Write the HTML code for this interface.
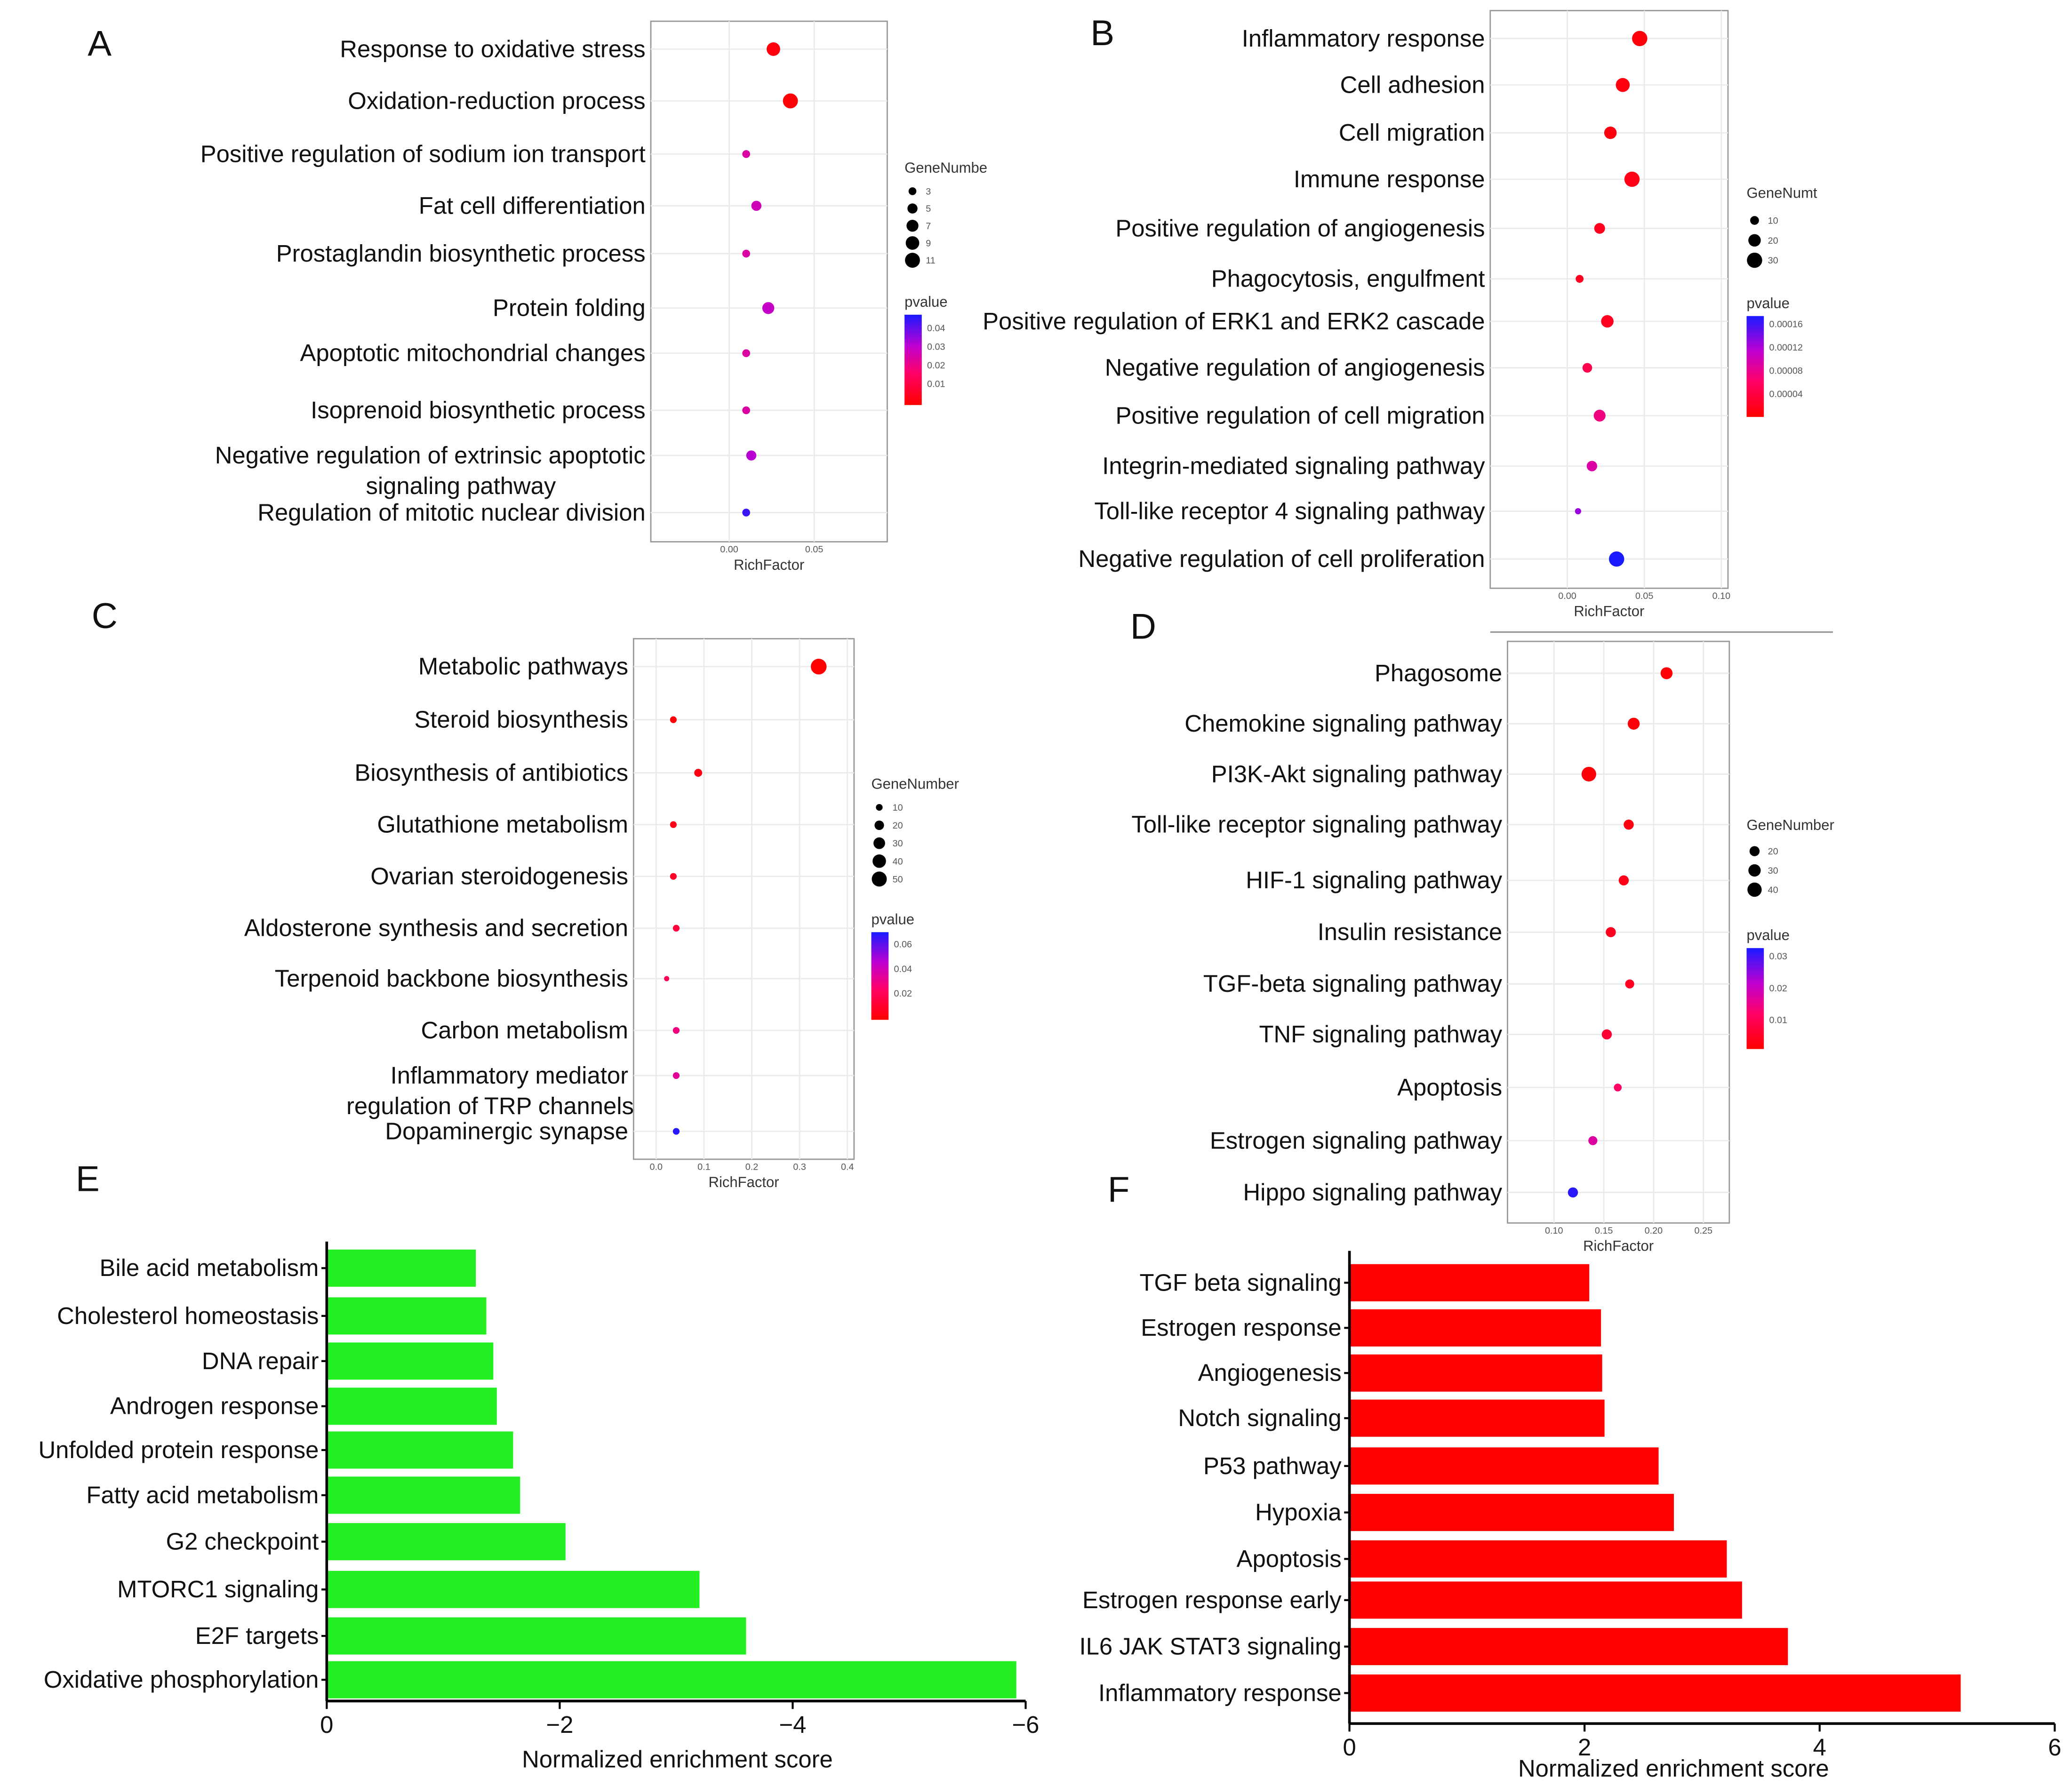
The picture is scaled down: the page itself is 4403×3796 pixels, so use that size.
<!DOCTYPE html>
<html><head><meta charset="utf-8"><style>
html,body{margin:0;padding:0;background:#fff;}
svg{display:block;}
text{font-family:"Liberation Sans",sans-serif;}
.lab{font-size:18px;fill:#111;}
.tick{font-size:7px;fill:#555;}
.leg{font-size:11px;fill:#333;}
.panel{font-size:27px;fill:#111;}
</style></head><body>
<svg id="fig" xmlns="http://www.w3.org/2000/svg" width="4403" height="3796" viewBox="0 0 1560 1345" preserveAspectRatio="none">
<defs>
<linearGradient id="pg" x1="0" y1="1" x2="0" y2="0">
<stop offset="0" stop-color="#ff0000"/><stop offset="0.35" stop-color="#ff0066"/><stop offset="0.65" stop-color="#c000d0"/><stop offset="1" stop-color="#1a1aff"/>
</linearGradient>
</defs>
</svg>
<script>
// ---------- Panel A data ----------
const catsA=["Response to oxidative stress","Oxidation-reduction process","Positive regulation of sodium ion transport","Fat cell differentiation","Prostaglandin biosynthetic process","Protein folding","Apoptotic mitochondrial changes","Isoprenoid biosynthetic process","Negative regulation of extrinsic apoptotic|signaling pathway","Regulation of mitotic nuclear division"];
const richA=[0.026,0.036,0.010,0.016,0.010,0.023,0.010,0.010,0.013,0.010];
const geneA=[9,11,3,5,3,7,3,3,5,3];
const pA=[0.002,0.001,0.025,0.028,0.025,0.03,0.025,0.025,0.032,0.045];
const ticksA=["0.00","0.05"];
const legSizeA=[3,5,7,9,11];
const legPA=["0.04","0.03","0.02","0.01"];
// ---------- Panel B data ----------
const catsB=["Inflammatory response","Cell adhesion","Cell migration","Immune response","Positive regulation of angiogenesis","Phagocytosis, engulfment","Positive regulation of ERK1 and ERK2 cascade","Negative regulation of angiogenesis","Positive regulation of cell migration","Integrin-mediated signaling pathway","Toll-like receptor 4 signaling pathway","Negative regulation of cell proliferation"];
const richB=[0.047,0.036,0.028,0.042,0.021,0.008,0.026,0.013,0.021,0.016,0.007,0.032];
const geneB=[30,25,20,30,15,8,20,12,18,14,5,30];
const pB=[0.000005,0.00001,0.00001,0.000015,0.00002,0.00002,0.00002,0.00005,0.00008,0.0001,0.00014,0.00019];
const ticksB=["0.00","0.05","0.10"];
const legSizeB=[10,20,30];
const legPB=["0.00016","0.00012","0.00008","0.00004"];
// ---------- Panel C data ----------
const catsC=["Metabolic pathways","Steroid biosynthesis","Biosynthesis of antibiotics","Glutathione metabolism","Ovarian steroidogenesis","Aldosterone synthesis and secretion","Terpenoid backbone biosynthesis","Carbon metabolism","Inflammatory mediator|regulation of TRP channels","Dopaminergic synapse"];
const richC=[0.34,0.036,0.088,0.036,0.036,0.042,0.022,0.042,0.042,0.042];
const geneC=[55,10,14,10,10,10,6,10,10,10];
const pC=[0.0005,0.002,0.004,0.006,0.01,0.015,0.02,0.03,0.035,0.07];
const ticksC=["0.0","0.1","0.2","0.3","0.4"];
const legSizeC=[10,20,30,40,50];
const legPC=["0.06","0.04","0.02"];
// ---------- Panel D data ----------
const catsD=["Phagosome","Chemokine signaling pathway","PI3K-Akt signaling pathway","Toll-like receptor signaling pathway","HIF-1 signaling pathway","Insulin resistance","TGF-beta signaling pathway","TNF signaling pathway","Apoptosis","Estrogen signaling pathway","Hippo signaling pathway"];
const richD=[0.213,0.18,0.135,0.175,0.17,0.157,0.176,0.153,0.164,0.139,0.119];
const geneD=[28,28,42,20,20,20,16,20,12,16,20];
const pD=[0.0005,0.001,0.001,0.002,0.003,0.004,0.004,0.006,0.012,0.018,0.034];
const ticksD=["0.10","0.15","0.20","0.25"];
const legSizeD=[20,30,40];
const legPD=["0.03","0.02","0.01"];
// ---------- Panel E data ----------
const catsE=["Bile acid metabolism","Cholesterol homeostasis","DNA repair","Androgen response","Unfolded protein response","Fatty acid metabolism","G2 checkpoint","MTORC1 signaling","E2F targets","Oxidative phosphorylation"];
const valsE=[-1.28,-1.37,-1.43,-1.46,-1.6,-1.66,-2.05,-3.2,-3.6,-5.92];
const ticksE=[0,-2,-4,-6];
// ---------- Panel F data ----------
const catsF=["TGF beta signaling","Estrogen response","Angiogenesis","Notch signaling","P53 pathway","Hypoxia","Apoptosis","Estrogen response early","IL6 JAK STAT3 signaling","Inflammatory response"];
const valsF=[2.04,2.14,2.15,2.17,2.63,2.76,3.21,3.34,3.73,5.2];
const ticksF=[0,2,4,6];

const svg=document.getElementById('fig');
const NS="http://www.w3.org/2000/svg";
function mk(tag,attrs,parent){const e=document.createElementNS(NS,tag);for(const k in attrs)e.setAttribute(k,attrs[k]);(parent||svg).appendChild(e);return e;}
function txt(x,y,s,cls,anchor,parent){const t=mk('text',{x:x,y:y,class:cls,'text-anchor':anchor||'start'},parent);t.textContent=s;return t;}
function lerp(a,b,t){return a+(b-a)*t;}
function pcol(t){
  const st=[[0,[255,0,0]],[0.35,[255,0,102]],[0.65,[192,0,208]],[1,[26,26,255]]];
  t=Math.max(0,Math.min(1,t));
  for(let i=0;i<st.length-1;i++){if(t<=st[i+1][0]){const u=(t-st[i][0])/(st[i+1][0]-st[i][0]);const a=st[i][1],b=st[i+1][1];return `rgb(${Math.round(lerp(a[0],b[0],u))},${Math.round(lerp(a[1],b[1],u))},${Math.round(lerp(a[2],b[2],u))})`;}}
}

function dotPanel(cfg){
  const g=mk('g',{});
  
  
  const b=cfg.box;
  mk('rect',{x:b[0],y:b[1],width:b[2]-b[0],height:b[3]-b[1],fill:'#fff',stroke:'#999','stroke-width':1},g);
  const xs=v=>cfg.x0+(v-cfg.v0)*(cfg.x1-cfg.x0)/(cfg.v1-cfg.v0);
  cfg.ticks.forEach(t=>{const X=xs(parseFloat(t));mk('line',{x1:X,x2:X,y1:b[1],y2:b[3],stroke:'#ebebeb','stroke-width':1},g);});
  cfg.cats.forEach((c,i)=>{
    const Y=cfg.rows[i];
    mk('line',{x1:b[0],x2:b[2],y1:Y,y2:Y,stroke:'#ebebeb','stroke-width':1},g);
    const parts=c.split('|');
    const l=txt(b[0]-4,Y+6,parts[0],'lab','end',g);
    
    
    if(parts.length>1){const l2=txt(cfg.sub2x,Y+29,parts[1],'lab','middle',g);}
    const d=mk('circle',{cx:xs(cfg.rich[i]),cy:Y,r:cfg.rs(cfg.gene[i]),fill:pcol(cfg.pt(cfg.p[i]))},g);
    
    
  });
  cfg.ticks.forEach(t=>{const X=xs(parseFloat(t));const tt=txt(X,b[3]+8,t,'tick','middle',g);});
  const xt=txt((b[0]+b[2])/2,b[3]+21,'RichFactor','leg','middle',g);
  
  const L=cfg.leg;
  const lt=txt(L.x,L.gy,L.gtitle,'leg','start',g);
  
  cfg.legSize.forEach((s,i)=>{const Y=L.gy+L.sy0+i*L.sstep;mk('circle',{cx:L.x+6,cy:Y,r:cfg.rs(s),fill:'#000'},g);const t=txt(L.x+16,Y+2.5,String(s),'tick','start',g);});
  const pt=txt(L.x,L.py,'pvalue','leg','start',g);
  
  const cb=mk('rect',{x:L.x,y:L.py+6,width:13,height:L.ch,fill:'url(#pg)'},g);
  
  cfg.legP.forEach((s,i)=>{const Y=L.py+6+L.t0+i*L.tstep;const t=txt(L.x+17,Y+2.5,s,'tick','start',g);});
}

dotPanel({name:'panel-a-dotplot',box:[490,16,668,408],x0:549,x1:613,v0:0,v1:0.05,ticks:ticksA,
 cats:catsA,rich:richA,gene:geneA,p:pA,rows:[37,76,116,155,191,232,266,309,343,386],sub2x:347,
 rs:n=>1.7*Math.sqrt(n),pt:p=>p/0.048,legSize:legSizeA,legP:legPA,
 leg:{x:681,gy:130,gtitle:'GeneNumbe',sy0:14,sstep:13,py:231,ch:68,t0:10,tstep:14}});
dotPanel({name:'panel-b-dotplot',box:[1122,8,1301,443],x0:1180,x1:1238,v0:0,v1:0.05,ticks:ticksB,
 cats:catsB,rich:richB,gene:geneB,p:pB,rows:[29,64,100,135,172,210,242,277,313,351,385,421],sub2x:0,
 rs:n=>1.05*Math.sqrt(n),pt:p=>p/0.00019,legSize:legSizeB,legP:legPB,
 leg:{x:1315,gy:149,gtitle:'GeneNumt',sy0:17,sstep:15,py:232,ch:76,t0:6,tstep:17.5}});
dotPanel({name:'panel-c-dotplot',box:[477,481,643,873],x0:494,x1:530,v0:0,v1:0.1,ticks:ticksC,
 cats:catsC,rich:richC,gene:geneC,p:pC,rows:[502,542,582,621,660,699,737,776,810,852],sub2x:369,
 rs:n=>0.8*Math.sqrt(n),pt:p=>p/0.072,legSize:legSizeC,legP:legPC,
 leg:{x:656,gy:594,gtitle:'GeneNumber',sy0:14,sstep:13.5,py:696,ch:66,t0:9,tstep:18.5}});
dotPanel({name:'panel-d-dotplot',box:[1135,483,1302,921],x0:1170,x1:1207.5,v0:0.1,v1:0.15,ticks:ticksD,
 cats:catsD,rich:richD,gene:geneD,p:pD,rows:[507,545,583,621,663,702,741,779,819,859,898],sub2x:0,
 rs:n=>0.85*Math.sqrt(n),pt:p=>p/0.035,legSize:legSizeD,legP:legPD,
 leg:{x:1315,gy:625,gtitle:'GeneNumber',sy0:16,sstep:14.5,py:708,ch:76,t0:6,tstep:24}});

const sep=mk('line',{x1:1122,x2:1380,y1:476,y2:476,stroke:'#999','stroke-width':1.2});


function barPanel(cfg){
  const g=mk('g',{});
  
  
  const xs=v=>cfg.x0+v*cfg.k;
  cfg.cats.forEach((c,i)=>{
    const Y=cfg.rows[i];const v=cfg.vals[i];
    const x1=Math.min(xs(0),xs(v)),w=Math.abs(xs(v)-xs(0));
    const r=mk('rect',{x:x1,y:Y-14,width:w,height:28,fill:cfg.color},g);
    
    
    mk('line',{x1:cfg.x0-4,x2:cfg.x0,y1:Y,y2:Y,stroke:'#000','stroke-width':1.5},g);
    const l=txt(cfg.x0-6,Y+6,c,'lab','end',g);
    
    
  });
  mk('line',{x1:cfg.x0,x2:cfg.x0,y1:cfg.yTop,y2:cfg.yAxis,stroke:'#000','stroke-width':2},g);
  const ax=mk('line',{x1:xs(cfg.ticks[0]),x2:xs(cfg.ticks[cfg.ticks.length-1]),y1:cfg.yAxis,y2:cfg.yAxis,stroke:'#000','stroke-width':2},g);
  
  cfg.ticks.forEach(t=>{const X=xs(t);mk('line',{x1:X,x2:X,y1:cfg.yAxis,y2:cfg.yAxis+6,stroke:'#000','stroke-width':1.5},g);
    const tt=txt(X,cfg.yAxis+24,String(t).replace('-','−'),'lab','middle',g);tt.setAttribute('font-size','16');});
  const ti=txt(cfg.titleX,cfg.titleY,'Normalized enrichment score','lab','middle',g);
  ti.setAttribute('font-size','24');
  
}
barPanel({name:'panel-e-barchart',cats:catsE,vals:valsE,ticks:ticksE,x0:246,k:-87.7,color:'#22ee22',
 rows:[955,991,1025,1059,1092,1126,1161,1197,1232,1265],yTop:935,yAxis:1281,titleX:510,titleY:1331});
barPanel({name:'panel-f-barchart',cats:catsF,vals:valsF,ticks:ticksF,x0:1016,k:88.5,color:'#ff0000',
 rows:[966,1000,1034,1068,1104,1139,1174,1205,1240,1275],yTop:942,yAxis:1298,titleX:1260,titleY:1338});

[["A",66,42],["B",821,34],["C",69,473],["D",851,481],["E",57,897],["F",834,905]].forEach(a=>{
  const t=txt(a[1],a[2],a[0],'panel','start');
  
  
});
</script>
</body></html>
